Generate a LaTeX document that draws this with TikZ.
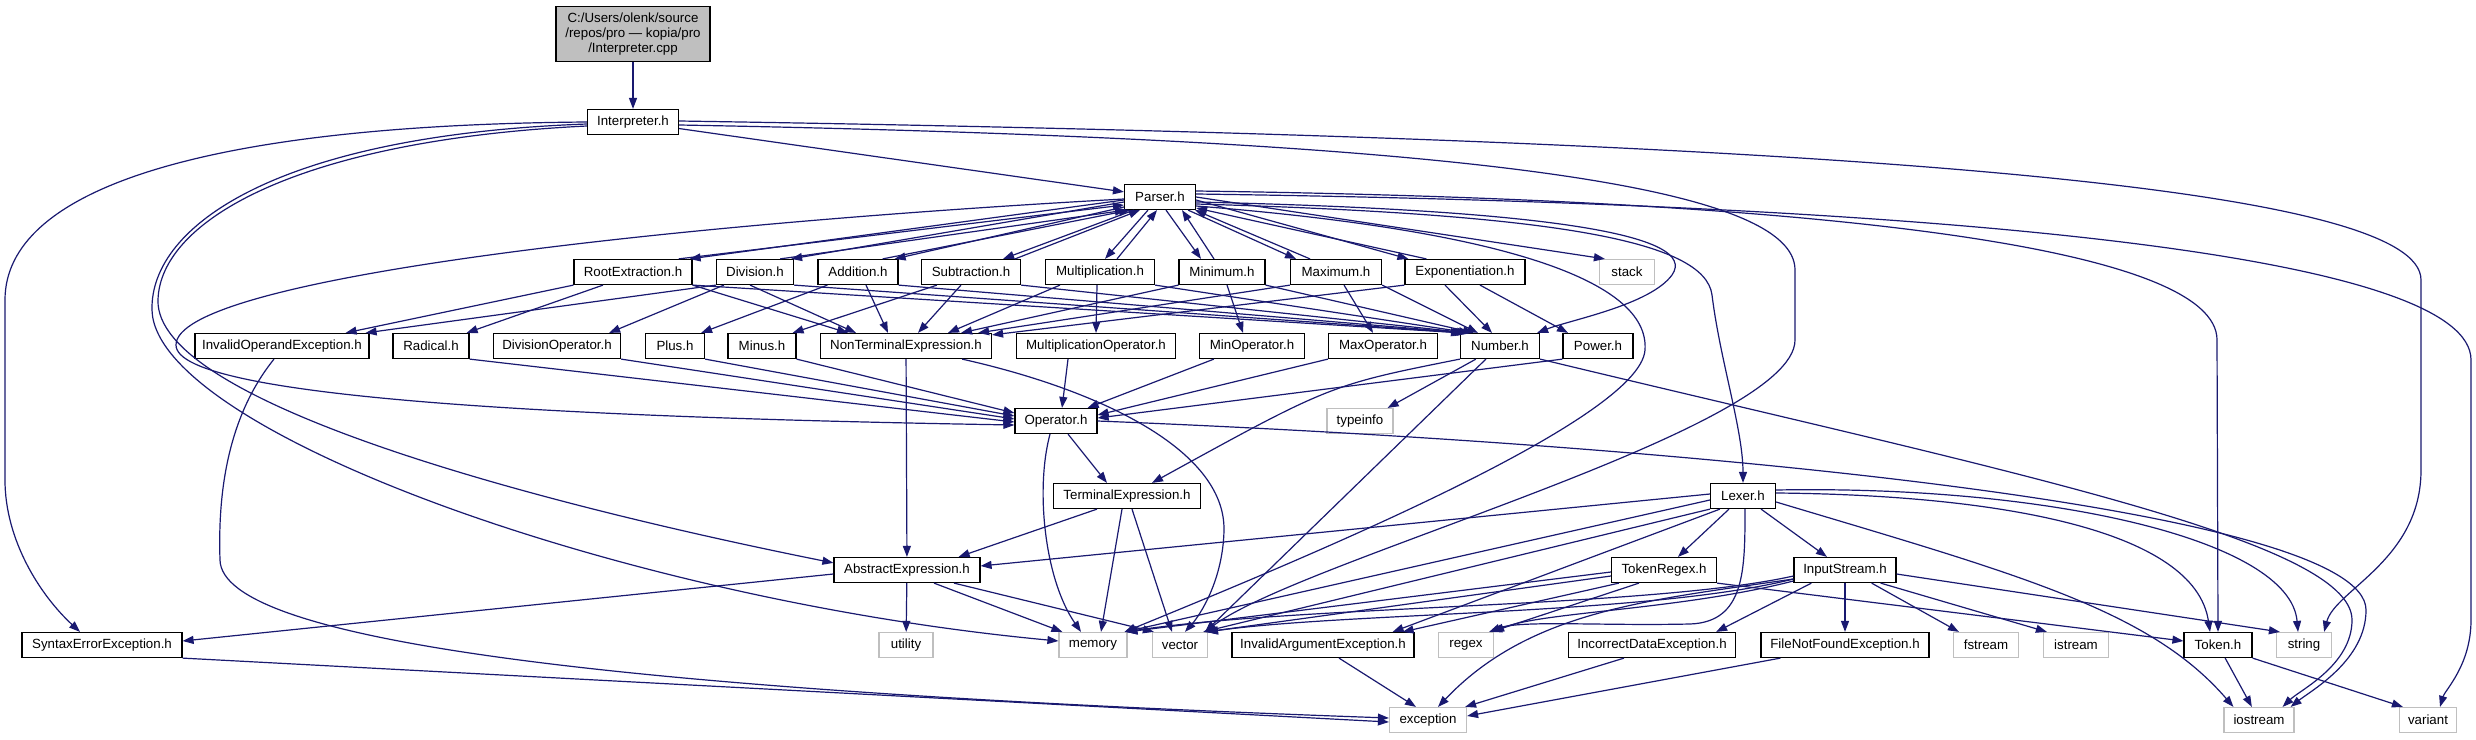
\documentclass[tikz,border=0pt]{standalone}
\usepackage{fontspec}
\setmainfont{Liberation Sans}
\usetikzlibrary{arrows.meta}
\definecolor{edgec}{HTML}{191970}
\definecolor{grayb}{HTML}{BFBFBF}
\begin{document}
\begin{tikzpicture}[x=1pt,y=-1pt,
  nd/.style={draw=black, line width=1.2pt, fill=white, inner sep=0pt, minimum height=25pt,
             font=\fontsize{13.3}{15}\selectfont, align=center},
  sys/.style={nd, draw=grayb},
  e/.style={draw=edgec, line width=1.2pt, -{Triangle[length=11pt,width=8pt]}},
]
\fill[white] (0,0) rectangle (2476,739);
\useasboundingbox (0,0) rectangle (2476,739);

% ---------- nodes ----------
\node[nd, fill=grayb, minimum width=154pt, minimum height=55pt] (root) at (633,34) {C:/Users/olenk/source\\/repos/pro — kopia/pro\\/Interpreter.cpp};
\node[nd, minimum width=91pt] (interp) at (633,122) {Interpreter.h};
\node[nd, minimum width=71pt] (parser) at (1160,197) {Parser.h};

\node[nd, minimum width=118pt] (rootx) at (633,272) {RootExtraction.h};
\node[nd, minimum width=77pt] (div) at (755,272) {Division.h};
\node[nd, minimum width=80pt] (add) at (858,272) {Addition.h};
\node[nd, minimum width=99pt] (sub) at (971,272) {Subtraction.h};
\node[nd, minimum width=109pt] (mul) at (1100,272) {Multiplication.h};
\node[nd, minimum width=86pt] (min) at (1222,272) {Minimum.h};
\node[nd, minimum width=91pt] (max) at (1336,272) {Maximum.h};
\node[nd, minimum width=120pt] (expo) at (1465,272) {Exponentiation.h};
\node[sys, minimum width=55pt] (stack) at (1627,272) {stack};

\node[nd, minimum width=174pt] (ioe) at (282,346) {InvalidOperandException.h};
\node[nd, minimum width=76pt] (rad) at (431,346) {Radical.h};
\node[nd, minimum width=127pt] (divop) at (557,346) {DivisionOperator.h};
\node[nd, minimum width=59pt] (plus) at (675,346) {Plus.h};
\node[nd, minimum width=68pt] (minus) at (762,346) {Minus.h};
\node[nd, minimum width=171pt] (nte) at (906,346) {NonTerminalExpression.h};
\node[nd, minimum width=159pt] (mulop) at (1096,346) {MultiplicationOperator.h};
\node[nd, minimum width=105pt] (minop) at (1252,346) {MinOperator.h};
\node[nd, minimum width=109pt] (maxop) at (1383,346) {MaxOperator.h};
\node[nd, minimum width=79pt] (num) at (1500,346) {Number.h};
\node[nd, minimum width=70pt] (pow) at (1598,346) {Power.h};

\node[nd, minimum width=82pt] (op) at (1056,421) {Operator.h};
\node[sys, minimum width=66pt] (typeinfo) at (1360,421) {typeinfo};

\node[nd, minimum width=147pt] (te) at (1127,496) {TerminalExpression.h};
\node[nd, minimum width=65pt] (lex) at (1743,496) {Lexer.h};

\node[nd, minimum width=146pt] (ae) at (907,570) {AbstractExpression.h};
\node[nd, minimum width=105pt] (treg) at (1664,570) {TokenRegex.h};
\node[nd, minimum width=102pt] (ins) at (1845,570) {InputStream.h};

\node[nd, minimum width=160pt] (syn) at (102,645) {SyntaxErrorException.h};
\node[sys, minimum width=54pt] (util) at (906,645) {utility};
\node[sys, minimum width=68pt] (mem) at (1093,645) {memory};
\node[sys, minimum width=55pt] (vec) at (1180,645) {vector};
\node[nd, minimum width=182pt] (iae) at (1323,645) {InvalidArgumentException.h};
\node[sys, minimum width=55pt] (regex) at (1466,645) {regex};
\node[nd, minimum width=167pt] (ide) at (1652,645) {IncorrectDataException.h};
\node[nd, minimum width=168pt] (fnf) at (1845,645) {FileNotFoundException.h};
\node[sys, minimum width=65pt] (fstream) at (1986,645) {fstream};
\node[sys, minimum width=65pt] (istream) at (2076,645) {istream};
\node[nd, minimum width=68pt] (token) at (2218,645) {Token.h};
\node[sys, minimum width=55pt] (string) at (2304,645) {string};

\node[sys, minimum width=77pt] (exc) at (1428,720) {exception};
\node[sys, minimum width=70pt] (iostream) at (2259,720) {iostream};
\node[sys, minimum width=57pt] (variant) at (2428,720) {variant};

% ---------- edges ----------
\draw[e] (root) -- (interp);
\draw[e] (interp) -- (parser);
% Interpreter.h long edges
\draw[e] (interp.west) .. controls (200,125) and (5,190) .. (5,300) -- (5,480) .. controls (5,540) and (40,595) .. ([xshift=-22pt]syn.north);
\draw[e] ([yshift=-4pt]interp.west) .. controls (300,140) and (160,220) .. (158,300) .. controls (155,400) and (520,500) .. ([yshift=-6pt]ae.north west);
\draw[e] ([yshift=-2pt]interp.west) .. controls (280,135) and (150,225) .. (152,310) .. controls (155,430) and (620,600) .. ([yshift=4pt]mem.west);
\draw[e] ([yshift=1pt]interp.east) .. controls (1900,140) and (2421,190) .. (2421,280) -- (2421,470) .. controls (2421,560) and (2335,590) .. ([xshift=-8pt]string.north east);
\draw[e] ([yshift=-3pt]interp.east) .. controls (1500,140) and (1795,190) .. (1795,270) -- (1795,340) .. controls (1795,430) and (1300,560) .. ([xshift=-3pt]vec.north east);

% Parser <-> operations
\draw[e] ([yshift=-3pt]parser.west) -- ([xshift=-3pt]rootx.north east);
\draw[e] ([xshift=-14pt]rootx.north east) -- ([yshift=-8pt]parser.west);
\draw[e] ([yshift=-5pt]parser.west) -- ([xshift=-3pt]div.north east);
\draw[e] ([xshift=-14pt]div.north east) -- ([xshift=2pt]parser.south west);
\draw[e] ([yshift=-10pt]parser.west) -- ([xshift=-4pt]add.north east);
\draw[e] ([xshift=-16pt]add.north east) -- ([xshift=6pt]parser.south west);
\draw[e] ([xshift=10pt]parser.south west) -- ([xshift=-18pt]sub.north east);
\draw[e] ([xshift=-6pt]sub.north east) -- ([xshift=16pt]parser.south west);
\draw[e] ([xshift=-12pt]parser.south) -- ([xshift=5pt]mul.north);
\draw[e] ([xshift=17pt]mul.north) -- ([xshift=-3pt]parser.south);
\draw[e] ([xshift=6pt]parser.south) -- ([xshift=-21pt]min.north);
\draw[e] ([xshift=-8pt]min.north) -- ([xshift=22pt]parser.south);
\draw[e] ([xshift=-8pt]parser.south east) -- ([xshift=-40pt]max.north);
\draw[e] ([xshift=-26pt]max.north) -- ([xshift=-1pt]parser.south east);
\draw[e] ([yshift=-3pt]parser.east) -- ([xshift=4pt]expo.north west);
\draw[e] ([xshift=22pt]expo.north west) -- ([yshift=-11pt]parser.east);
\draw[e] (parser.east) -- ([xshift=6pt]stack.north west);

% Parser long edges
\draw[e] ([yshift=-2pt]parser.west) .. controls (650,225) and (176,280) .. (176,345) .. controls (176,400) and (600,418) .. ([yshift=-4pt]op.west);
\draw[e] ([yshift=-5pt]parser.east) .. controls (1550,210) and (1700,235) .. (1672,275) .. controls (1650,305) and (1570,320) .. ([xshift=-3pt]num.north east);
\draw[e] ([yshift=-7pt]parser.east) .. controls (1550,214) and (1705,240) .. (1712,295) .. controls (1720,360) and (1743,430) .. (lex.north);
\draw[e] ([yshift=-9pt]parser.east) .. controls (1500,230) and (1650,280) .. (1645,350) .. controls (1640,420) and (1300,560) .. ([xshift=-3pt]mem.north east);
\draw[e] ([yshift=6pt]parser.east) .. controls (1850,200) and (2217,250) .. (2217,340) -- (token.north);
\draw[e] ([yshift=3pt]parser.east) .. controls (2000,205) and (2471,260) .. (2471,360) -- (2471,620) .. controls (2471,665) and (2445,690) .. ([xshift=12pt]variant.north);

% operations -> NonTerminalExpression.h
\draw[e] (rootx.south east) -- ([xshift=-58pt]nte.north);
\draw[e] ([xshift=-5pt]div.south) -- ([xshift=-50pt]nte.north);
\draw[e] ([xshift=8pt]add.south) -- ([xshift=-18pt]nte.north);
\draw[e] ([xshift=-10pt]sub.south) -- ([xshift=12pt]nte.north);
\draw[e] ([xshift=-40pt]mul.south) -- ([xshift=42pt]nte.north);
\draw[e] (min.south west) -- ([xshift=55pt]nte.north);
\draw[e] (max.south west) -- ([xshift=-14pt]nte.north east);
\draw[e] (expo.south west) -- ([yshift=-2pt]nte.north east);

% operations -> Number.h
\draw[e] (rootx.south east) -- ([xshift=2pt]num.north west);
\draw[e] (div.south east) -- ([xshift=4pt]num.north west);
\draw[e] (add.south east) -- ([xshift=6pt]num.north west);
\draw[e] (sub.south east) -- ([xshift=8pt]num.north west);
\draw[e] (mul.south east) -- ([xshift=10pt]num.north west);
\draw[e] (min.south east) -- ([xshift=14pt]num.north west);
\draw[e] (max.south east) -- ([xshift=18pt]num.north west);
\draw[e] ([xshift=-20pt]expo.south) -- ([xshift=-8pt]num.north);

% operations -> their operators
\draw[e] ([xshift=-30pt]rootx.south) -- ([xshift=-3pt]rad.north east);
\draw[e] (rootx.south west) -- ([xshift=-24pt]ioe.north east);
\draw[e] (div.south west) -- ([xshift=-4pt]ioe.north east);
\draw[e] ([xshift=8pt]div.south west) -- ([xshift=-12pt]divop.north east);
\draw[e] ([xshift=10pt]add.south west) -- ([xshift=-4pt]plus.north east);
\draw[e] ([xshift=16pt]sub.south west) -- ([xshift=-4pt]minus.north east);
\draw[e] ([xshift=-3pt]mul.south) -- (mulop.north);
\draw[e] ([xshift=5pt]min.south) -- ([xshift=-9pt]minop.north);
\draw[e] ([xshift=8pt]max.south) -- ([xshift=-10pt]maxop.north);
\draw[e] ([xshift=15pt]expo.south) -- ([xshift=-30pt]pow.north);

% operators -> Operator.h
\draw[e] (rad.south east) -- ([yshift=-1pt]op.west);
\draw[e] (divop.south east) -- ([yshift=2pt]op.west);
\draw[e] (plus.south east) -- ([yshift=5pt]op.west);
\draw[e] (minus.south east) -- ([yshift=8pt]op.west);
\draw[e] ([xshift=-28pt]mulop.south) -- ([xshift=6pt]op.north);
\draw[e] ([xshift=15pt]minop.south west) -- ([xshift=-10pt]op.north east);
\draw[e] (maxop.south west) -- ([yshift=6pt]op.east);
\draw[e] (pow.south west) -- ([yshift=3pt]op.east);

% NonTerminalExpression.h
\draw[e] (nte) -- (ae);
\draw[e] ([xshift=-30pt]nte.south east) .. controls (1100,390) and (1225,450) .. (1224,530) .. controls (1223,580) and (1200,615) .. ([xshift=5pt]vec.north);

% Number.h
\draw[e] (num.south west) .. controls (1330,385) .. ([xshift=25pt]te.north);
\draw[e] ([xshift=16pt]num.south west) -- ([xshift=-6pt]typeinfo.north east);
\draw[e] ([xshift=26pt]num.south west) -- ([xshift=-3pt]vec.north east);
\draw[e] (num.south east) .. controls (2000,470) and (2352,540) .. (2352,620) .. controls (2352,665) and (2300,690) .. ([xshift=-12pt]iostream.north east);

% Operator.h
\draw[e] ([xshift=12pt]op.south) -- ([xshift=-20pt]te.north);
\draw[e] ([xshift=-6pt]op.south) .. controls (1035,490) and (1045,580) .. ([xshift=-12pt]mem.north);
\draw[e] (op.east) .. controls (1700,445) and (2366,510) .. (2366,610) .. controls (2366,660) and (2312,690) .. ([xshift=-4pt]iostream.north east);

% TerminalExpression.h
\draw[e] ([xshift=-30pt]te.south) -- ([xshift=-22pt]ae.north east);
\draw[e] ([xshift=-5pt]te.south) -- ([xshift=8pt]mem.north);
\draw[e] ([xshift=5pt]te.south) -- ([xshift=-8pt]vec.north);

% AbstractExpression.h
\draw[e] ([yshift=-4pt]ae.west) -- ([yshift=4pt]syn.east);
\draw[e] (ae) -- (util);
\draw[e] ([xshift=27pt]ae.south) -- ([xshift=4pt]mem.north west);
\draw[e] ([xshift=47pt]ae.south) -- ([xshift=2pt]vec.north west);

% exceptions
\draw[e] (syn.south east) -- ([yshift=-2pt]exc.west);
\draw[e] ([xshift=-8pt]ioe.south) .. controls (225,420) and (218,500) .. (220,560) .. controls (222,640) and (600,690) .. ([yshift=2pt]exc.west);
\draw[e] ([xshift=16pt]iae.south) -- ([xshift=-12pt]exc.north);
\draw[e] ([xshift=-28pt]ide.south) -- ([xshift=-2pt]exc.north east);
\draw[e] ([xshift=20pt]fnf.south west) -- ([yshift=4pt]exc.east);

% Lexer.h
\draw[e] ([yshift=2pt]lex.west) -- ([yshift=4pt]ae.east);
\draw[e] ([yshift=-4pt]lex.west) -- ([xshift=-3pt]mem.north east);
\draw[e] (lex.south west) -- ([xshift=-5pt]vec.north east);
\draw[e] ([xshift=10pt]lex.south west) -- ([xshift=-22pt]iae.north east);
\draw[e] (lex) -- (treg);
\draw[e] (lex) -- (ins);
\draw[e] ([xshift=2pt]lex.south) .. controls (1745,570) and (1745,622) .. (1690,624) .. controls (1600,626) and (1520,620) .. ([xshift=-5pt]regex.north east);
\draw[e] ([yshift=3pt]lex.east) .. controls (2000,495) and (2195,530) .. ([xshift=-8pt]token.north);
\draw[e] ([yshift=6pt]lex.east) .. controls (2050,485) and (2290,540) .. ([xshift=-6pt]string.north);
\draw[e] ([yshift=-6pt]lex.east) .. controls (2020,575) and (2150,610) .. ([xshift=10pt]iostream.north west);

% TokenRegex.h
\draw[e] ([yshift=-2pt]treg.west) -- ([xshift=-1pt]mem.north east);
\draw[e] ([yshift=-6pt]treg.west) -- ([xshift=-2pt]vec.north east);
\draw[e] ([xshift=8pt]treg.south west) -- ([xshift=-12pt]iae.north east);
\draw[e] ([xshift=-25pt]treg.south) -- ([xshift=-3pt]regex.north east);
\draw[e] (treg.south east) -- ([yshift=4pt]token.west);

% InputStream.h
\draw[e] ([yshift=-6pt]ins.west) .. controls (1650,608) and (1300,605) .. ([xshift=-2pt]mem.north east);
\draw[e] ([yshift=-9pt]ins.west) .. controls (1650,615) and (1350,612) .. ([xshift=-1pt]vec.north east);
\draw[e] ([yshift=-11pt]ins.west) .. controls (1680,610) and (1540,612) .. ([xshift=-1pt]regex.north east);
\draw[e] ([yshift=-9pt]ins.west) .. controls (1650,600) and (1530,610) .. ([xshift=10pt]exc.north);
\draw[e] ([xshift=18pt]ins.south west) -- ([xshift=-20pt]ide.north east);
\draw[e] (ins) -- (fnf);
\draw[e] ([xshift=-25pt]ins.south east) -- ([xshift=6pt]fstream.north west);
\draw[e] ([xshift=-16pt]ins.south east) -- ([xshift=4pt]istream.north west);
\draw[e] ([yshift=-4pt]ins.east) -- ([xshift=4pt]string.north west);

% Token.h
\draw[e] (token) -- (iostream);
\draw[e] (token.south east) -- ([xshift=4pt]variant.north west);
\end{tikzpicture}
\end{document}
